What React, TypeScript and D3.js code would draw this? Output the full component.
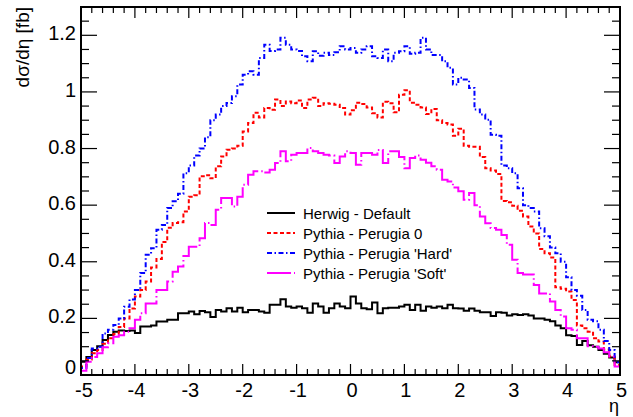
import React from "react";
import * as d3 from "d3";

// 100 bins of width 0.1 in eta, from -5 to 5
const binLow: number[] = d3.range(100).map((i) => -5 + i * 0.1);
const binWidth = 0.1;

const herwigDefault: number[] = [
  0.047, 0.064, 0.088, 0.102, 0.124, 0.141, 0.153, 0.157, 0.155, 0.157,
  0.148, 0.171, 0.171, 0.175, 0.189, 0.189, 0.195, 0.195, 0.218, 0.218,
  0.224, 0.215, 0.226, 0.222, 0.205, 0.23, 0.224, 0.236, 0.224, 0.238,
  0.222, 0.23, 0.23, 0.224, 0.22, 0.248, 0.248, 0.268, 0.242, 0.238,
  0.242, 0.236, 0.22, 0.253, 0.242, 0.22, 0.236, 0.253, 0.242, 0.236,
  0.277, 0.253, 0.236, 0.232, 0.256, 0.218, 0.236, 0.238, 0.238, 0.242,
  0.248, 0.23, 0.248, 0.227, 0.242, 0.238, 0.242, 0.236, 0.248, 0.236,
  0.235, 0.227, 0.235, 0.227, 0.222, 0.222, 0.208, 0.222, 0.22, 0.21,
  0.215, 0.212, 0.215, 0.21, 0.2, 0.2, 0.195, 0.19, 0.175, 0.165,
  0.14, 0.138, 0.106, 0.12, 0.105, 0.1, 0.088, 0.075, 0.062, 0.045,
];

const perugia0: number[] = [
  0.03, 0.055, 0.077, 0.088, 0.11, 0.13, 0.145, 0.17, 0.2, 0.235,
  0.277, 0.3, 0.33, 0.38, 0.41, 0.47, 0.52, 0.537, 0.54, 0.578,
  0.63, 0.635, 0.702, 0.706, 0.695, 0.737, 0.772, 0.796, 0.8, 0.81,
  0.86, 0.89, 0.926, 0.91, 0.943, 0.937, 0.973, 0.95, 0.966, 0.96,
  0.97, 0.943, 0.973, 0.979, 0.95, 0.96, 0.958, 0.955, 0.943, 0.92,
  0.935, 0.962, 0.957, 0.945, 0.925, 0.91, 0.965, 0.96, 0.928, 0.99,
  1.006, 0.962, 0.955, 0.945, 0.922, 0.94, 0.9, 0.89, 0.885, 0.845,
  0.87, 0.81, 0.806, 0.806, 0.77, 0.73, 0.722, 0.71, 0.615, 0.61,
  0.598, 0.58, 0.56, 0.525, 0.5, 0.445, 0.43, 0.415, 0.31, 0.305,
  0.295, 0.265, 0.175, 0.165, 0.153, 0.13, 0.118, 0.09, 0.065, 0.035,
];

const perugiaHard: number[] = [
  0.025, 0.06, 0.094, 0.1, 0.147, 0.16, 0.177, 0.2, 0.241, 0.267,
  0.3, 0.36, 0.425, 0.448, 0.513, 0.53, 0.59, 0.614, 0.64, 0.713,
  0.74, 0.775, 0.8, 0.84, 0.9, 0.92, 0.95, 0.961, 0.985, 1.026,
  1.061, 1.073, 1.061, 1.12, 1.167, 1.145, 1.15, 1.191, 1.167, 1.15,
  1.145, 1.126, 1.108, 1.144, 1.128, 1.138, 1.13, 1.14, 1.161, 1.15,
  1.155, 1.138, 1.15, 1.161, 1.126, 1.12, 1.15, 1.108, 1.138, 1.144,
  1.161, 1.135, 1.138, 1.191, 1.15, 1.13, 1.13, 1.108, 1.085, 1.026,
  1.05, 1.044, 1.014, 0.938, 0.92, 0.902, 0.849, 0.845, 0.74, 0.73,
  0.713, 0.66, 0.6, 0.59, 0.578, 0.518, 0.49, 0.45, 0.43, 0.4,
  0.345, 0.3, 0.28, 0.23, 0.195, 0.19, 0.16, 0.12, 0.088, 0.045,
];

const perugiaSoft: number[] = [
  0.015, 0.047, 0.064, 0.077, 0.098, 0.112, 0.135, 0.14, 0.153, 0.165,
  0.195, 0.218, 0.253, 0.253, 0.3, 0.3, 0.33, 0.365, 0.383, 0.42,
  0.453, 0.453, 0.483, 0.537, 0.53, 0.584, 0.625, 0.625, 0.595, 0.63,
  0.672, 0.707, 0.72, 0.72, 0.715, 0.725, 0.749, 0.79, 0.755, 0.778,
  0.784, 0.784, 0.802, 0.79, 0.784, 0.778, 0.775, 0.749, 0.772, 0.79,
  0.784, 0.743, 0.784, 0.784, 0.778, 0.795, 0.749, 0.79, 0.79, 0.77,
  0.73, 0.767, 0.775, 0.76, 0.75, 0.737, 0.725, 0.69, 0.684, 0.662,
  0.649, 0.619, 0.643, 0.6, 0.56, 0.536, 0.519, 0.513, 0.495, 0.46,
  0.407, 0.36, 0.355, 0.355, 0.318, 0.288, 0.288, 0.26, 0.23, 0.207,
  0.165, 0.16, 0.13, 0.13, 0.102, 0.1, 0.094, 0.08, 0.065, 0.03,
];

const xTickValues: number[] = [-5, -4, -3, -2, -1, 0, 1, 2, 3, 4, 5];
const yTickValues: number[] = [0, 0.2, 0.4, 0.6, 0.8, 1, 1.2];
const yTickLabels: string[] = ["0", "0.2", "0.4", "0.6", "0.8", "1", "1.2"];

type Series = {
  label: string;
  values: number[];
  color: string;
  dash: string | undefined;
};

const series: Series[] = [
  { label: "Herwig - Default", values: herwigDefault, color: "#000000", dash: undefined },
  { label: "Pythia - Perugia 0", values: perugia0, color: "#ff0000", dash: "4 2.5" },
  { label: "Pythia - Perugia 'Hard'", values: perugiaHard, color: "#0000ff", dash: "5 2.5 1.5 2.5" },
  { label: "Pythia - Perugia 'Soft'", values: perugiaSoft, color: "#ff00ff", dash: "24 3 1.5 3" },
];

const W = 633;
const H = 417;
const frame = { left: 81, right: 620, top: 7, bottom: 375 };
const FONT = "'Liberation Sans', Arial, Helvetica, sans-serif";

export default function App() {
  const x = d3.scaleLinear().domain([-5, 5]).range([frame.left, frame.right]);
  const y = d3.scaleLinear().domain([0, 1.3]).range([frame.bottom, frame.top]);

  const stepLine = d3
    .line<[number, number]>()
    .x((d) => x(d[0]))
    .y((d) => y(d[1]));

  // outline of a binned histogram, closed down to zero at both ends
  const histPath = (vals: number[]) => {
    const pts: [number, number][] = [[binLow[0], 0]];
    vals.forEach((v, i) => {
      pts.push([binLow[i], v]);
      pts.push([binLow[i] + binWidth, v]);
    });
    pts.push([binLow[vals.length - 1] + binWidth, 0]);
    return stepLine(pts) || "";
  };

  const xMinor = d3.range(-5, 5.0001, 0.2);
  const yMinor = d3.range(0, 1.3001, 0.05);

  const legendX0 = 267;
  const legendX1 = 295;
  const legendTextX = 303;
  const legendY0 = 213;
  const legendStep = 20;

  return (
    <svg
      width={W}
      height={H}
      viewBox={`0 0 ${W} ${H}`}
      style={{ position: "absolute", left: 0, top: 0, background: "#ffffff" }}
      fontFamily={FONT}
    >
      <rect x={0} y={0} width={W} height={H} fill="#ffffff" />
      <defs>
        <clipPath id="plotArea">
          <rect
            x={frame.left}
            y={frame.top}
            width={frame.right - frame.left}
            height={frame.bottom - frame.top}
          />
        </clipPath>
      </defs>

      {/* histograms */}
      <g clipPath="url(#plotArea)">
        {series.map((s) => (
          <path
            key={s.label}
            d={histPath(s.values)}
            fill="none"
            stroke={s.color}
            strokeWidth={2}
            strokeDasharray={s.dash}
            strokeLinejoin="miter"
          />
        ))}
      </g>

      {/* ticks on all four sides */}
      <g stroke="#000" strokeWidth={1.2}>
        {xMinor.map((v, i) => {
          const major = Math.abs(v - Math.round(v)) < 1e-6;
          const len = major ? 11 : 6;
          const px = x(v);
          return (
            <g key={"xt" + i}>
              <line x1={px} x2={px} y1={frame.bottom} y2={frame.bottom - len} />
              <line x1={px} x2={px} y1={frame.top} y2={frame.top + len} />
            </g>
          );
        })}
        {yMinor.map((v, i) => {
          const major = Math.abs(v / 0.2 - Math.round(v / 0.2)) < 1e-6;
          const len = major ? 16 : 8;
          const py = y(v);
          return (
            <g key={"yt" + i}>
              <line x1={frame.left} x2={frame.left + len} y1={py} y2={py} />
              <line x1={frame.right} x2={frame.right - len} y1={py} y2={py} />
            </g>
          );
        })}
      </g>

      {/* frame */}
      <rect
        x={frame.left}
        y={frame.top}
        width={frame.right - frame.left}
        height={frame.bottom - frame.top}
        fill="none"
        stroke="#000"
        strokeWidth={2}
      />

      {/* y tick labels */}
      <g fontSize={20} fill="#000" textAnchor="end">
        {yTickValues.map((v, i) => (
          <text
            key={"yl" + i}
            x={76}
            y={y(v) - (v === 0 ? 8 : 2)}
            dominantBaseline="central"
          >
            {yTickLabels[i]}
          </text>
        ))}
      </g>

      {/* x tick labels */}
      <g fontSize={20} fill="#000" textAnchor="middle">
        {xTickValues.map((v) => (
          <text key={"xl" + v} x={x(v) + (v === -5 ? 3 : 1.5)} y={397}>
            {String(v)}
          </text>
        ))}
      </g>

      {/* axis titles */}
      <text
        transform={`translate(29, ${frame.top}) rotate(-90)`}
        textAnchor="end"
        fontSize={19}
        fill="#000"
      >
        dσ/dη [fb]
      </text>
      <text x={frame.right - 1} y={412} textAnchor="end" fontSize={18} fill="#000">
        η
      </text>

      {/* legend */}
      <g>
        {series.map((s, i) => {
          const ly = legendY0 + i * legendStep;
          return (
            <g key={"lg" + i}>
              <line
                x1={legendX0}
                x2={legendX1}
                y1={ly}
                y2={ly}
                stroke={s.color}
                strokeWidth={2}
                strokeDasharray={s.dash}
              />
              <text
                x={legendTextX}
                y={ly}
                dominantBaseline="central"
                fontSize={15}
                fill="#000"
              >
                {s.label}
              </text>
            </g>
          );
        })}
      </g>
    </svg>
  );
}
